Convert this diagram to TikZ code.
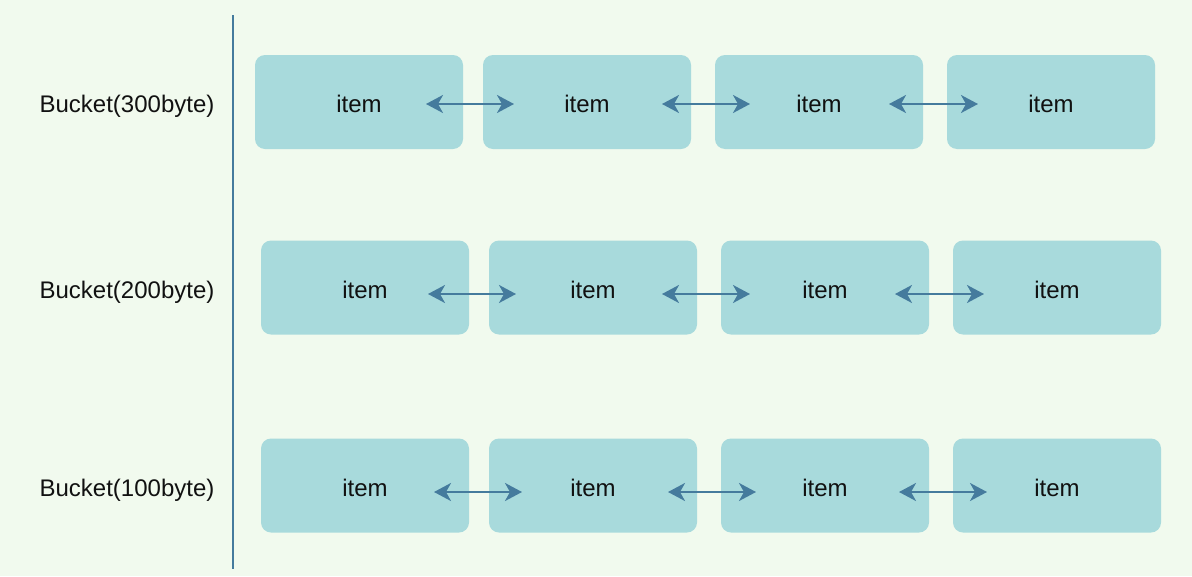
\documentclass[tikz,border=0pt]{standalone}
\usepackage{fontspec}
\setmainfont{Liberation Sans}
\usetikzlibrary{arrows.meta}
\definecolor{bgc}{HTML}{F1FAEE}
\definecolor{boxc}{HTML}{A8DADC}
\definecolor{linec}{HTML}{457B9D}
\definecolor{txtc}{HTML}{111111}
\tikzset{
  itembox/.style={fill=boxc, draw=none, rounded corners=10pt, minimum width=208pt, minimum height=94pt, inner sep=0pt, text height=21.5pt, text depth=0pt, font=\fontsize{24}{27}\selectfont, text=txtc},
  buck/.style={font=\fontsize{24}{27}\selectfont, text=txtc, inner sep=0pt},
  link/.style={draw=linec, line width=2.2pt, {Stealth[length=17pt,width=18pt,inset=5pt]}-{Stealth[length=17pt,width=18pt,inset=5pt]}},
  axis/.style={draw=linec, line width=2pt}
}
\begin{document}
\begin{tikzpicture}[x=1pt,y=-1pt]
\useasboundingbox (0,0) rectangle (1192,576);
\fill[bgc] (0,0) rectangle (1192,576);
\coordinate (vtop) at (233,15);
\coordinate (vbot) at (233,569);
\draw[axis] (vtop) -- (vbot);
% labels
\node[buck] (l1) at (127,106) {Bucket(300byte)};
\node[buck] (l2) at (127,292) {Bucket(200byte)};
\node[buck] (l3) at (127,490) {Bucket(100byte)};
% row 1
\node[itembox] (a1) at (359,102) {item};
\node[itembox] (a2) at (587,102) {item};
\node[itembox] (a3) at (819,102) {item};
\node[itembox] (a4) at (1051,102) {item};
% row 2
\node[itembox] (b1) at (365,287.5) {item};
\node[itembox] (b2) at (593,287.5) {item};
\node[itembox] (b3) at (825,287.5) {item};
\node[itembox] (b4) at (1057,287.5) {item};
% row 3
\node[itembox] (c1) at (365,485.5) {item};
\node[itembox] (c2) at (593,485.5) {item};
\node[itembox] (c3) at (825,485.5) {item};
\node[itembox] (c4) at (1057,485.5) {item};
% arrow endpoints
\coordinate (a12s) at (426,104); \coordinate (a12e) at (514,104);
\coordinate (a23s) at (662,104); \coordinate (a23e) at (750,104);
\coordinate (a34s) at (889,104); \coordinate (a34e) at (978,104);
\coordinate (b12s) at (428,294); \coordinate (b12e) at (516,294);
\coordinate (b23s) at (662,294); \coordinate (b23e) at (750,294);
\coordinate (b34s) at (895,294); \coordinate (b34e) at (984,294);
\coordinate (c12s) at (434,492); \coordinate (c12e) at (522,492);
\coordinate (c23s) at (668,492); \coordinate (c23e) at (756,492);
\coordinate (c34s) at (899,492); \coordinate (c34e) at (987,492);
\draw[link] (a12s) -- (a12e);
\draw[link] (a23s) -- (a23e);
\draw[link] (a34s) -- (a34e);
\draw[link] (b12s) -- (b12e);
\draw[link] (b23s) -- (b23e);
\draw[link] (b34s) -- (b34e);
\draw[link] (c12s) -- (c12e);
\draw[link] (c23s) -- (c23e);
\draw[link] (c34s) -- (c34e);
\end{tikzpicture}
\end{document}
